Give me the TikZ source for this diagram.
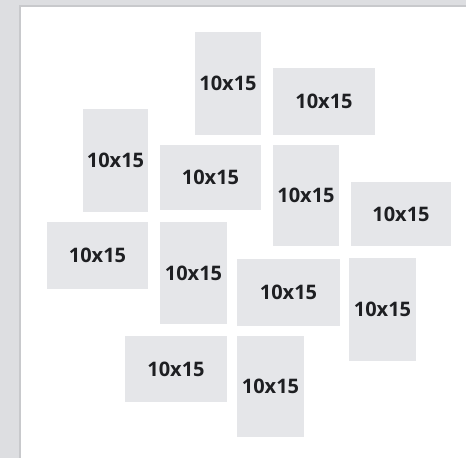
\documentclass[tikz,border=0pt]{standalone}
\usepackage{fontspec}
\setmainfont{Open Sans}
\definecolor{photo}{HTML}{E5E6E9}
\definecolor{outer}{HTML}{DDDEE1}
\definecolor{edge}{HTML}{C8C9CC}
\definecolor{ink}{HTML}{1E1F22}
\tikzset{
  x=1pt, y=-1pt,
  photobox/.style={fill=photo, draw=none, inner sep=0pt, font=\fontsize{20}{20}\selectfont\bfseries, text=ink},
}
\newcommand{\photo}[5]{% name, x1,y1,x2,y2
  \path[photobox] (#2,#3) rectangle (#4,#5);
  \node[photobox, fill=none] (#1) at ({(#2+#4)/2},{(#3+#5)/2}) {10x15};
}
\begin{document}
\begin{tikzpicture}
\useasboundingbox (0,0) rectangle (466,458);
\fill[outer] (0,0) rectangle (466,458);
\fill[edge] (19,5) rectangle (466,458);
\fill[white] (21,7) rectangle (466,458);
\photo{a}{195}{32}{261}{135}
\photo{b}{273}{68}{375}{135}
\photo{c}{83}{109}{148}{212}
\photo{d}{160}{145}{261}{210}
\photo{e}{273}{145}{339}{246}
\photo{f}{351}{182}{451}{246}
\photo{g}{47}{222}{148}{289}
\photo{h}{160}{222}{227}{324}
\photo{i}{237}{259}{340}{326}
\photo{j}{349}{258}{416}{361}
\photo{k}{125}{336}{227}{402}
\photo{l}{237}{336}{304}{437}
\end{tikzpicture}
\end{document}
